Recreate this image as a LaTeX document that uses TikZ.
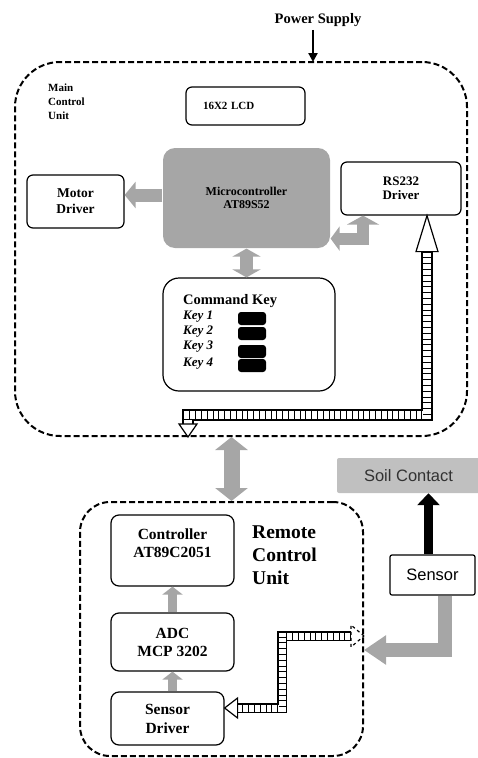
\documentclass[tikz,border=0pt]{standalone}
\usepackage{fontspec}
\setmainfont{Liberation Serif}
\newfontfamily\sansf{Liberation Sans}
\usetikzlibrary{arrows.meta}
\definecolor{garr}{RGB}{166,166,166}
\definecolor{gsoil}{RGB}{192,192,192}
\definecolor{soiltxt}{RGB}{50,50,50}
\newcommand\fPow{\fontsize{14.5}{16}\selectfont\bfseries}
\newcommand\fSm{\fontsize{11}{14}\selectfont\bfseries}
\newcommand\fLcd{\fontsize{11}{12}\selectfont\bfseries}
\newcommand\fMd{\fontsize{13.5}{16}\selectfont\bfseries}
\newcommand\fMc{\fontsize{12}{13}\selectfont\bfseries}
\newcommand\fRs{\fontsize{13}{14}\selectfont\bfseries}
\newcommand\fCmd{\fontsize{14.5}{15}\selectfont\bfseries}
\newcommand\fKey{\fontsize{13}{14}\selectfont\bfseries\itshape}
\newcommand\fRm{\fontsize{15.5}{18}\selectfont\bfseries}
\newcommand\fSd{\fontsize{15.5}{19}\selectfont\bfseries}
\newcommand\fBig{\fontsize{19.5}{23}\selectfont\bfseries}
\newcommand\fSoil{\sansf\fontsize{16.5}{18}\selectfont}
\begin{document}
\begin{tikzpicture}[x=1pt,y=-1pt,
  box/.style={draw, line width=1.2pt, rounded corners=6pt, align=center, inner sep=0pt},
  unit/.style={draw, line width=2pt, dash pattern=on 6pt off 3pt},
  keyblk/.style={fill=black, rounded corners=3pt, minimum width=28pt, minimum height=13pt, inner sep=0pt},
  txt/.style={inner sep=0pt, align=left},
  ladA/.style={draw=black, line width=12pt, line join=miter,
     postaction={draw=white, line width=8pt},
     postaction={draw=black, line width=8pt, dash pattern=on 0.8pt off 5pt}},
  ladB/.style={draw=black, line width=10pt, line join=miter,
     postaction={draw=white, line width=7pt},
     postaction={draw=black, line width=7pt, dash pattern=on 0.8pt off 5pt}},
  headst/.style={draw=black, fill=white, line width=1.2pt, line join=miter}
]
\useasboundingbox (0,0) rectangle (477,758);

% ---------- main control unit ----------
\node[unit, minimum width=452pt, minimum height=374pt, rounded corners=45pt] (main) at (241,249) {};
\node[font=\fPow, inner sep=0pt] (pwr) at (318,20) {Power Supply};
\coordinate (pin) at (313,62);
\draw[line width=2.2pt, -{Triangle[width=9pt,length=9pt]}, shorten <=3pt] (pwr.south -| pin) -- (pin);

\node[txt, anchor=north west, font=\fSm] (mcu) at (48,84) {Main\\Control\\Unit};
\node[box, minimum width=119pt, minimum height=38pt, text width=85pt, align=left, font=\fLcd] (lcd) at (245.5,106) {16X2 LCD};
\node[box, fill=garr, draw=none, minimum width=167pt, minimum height=100pt, rounded corners=12pt, font=\fMc] (micro) at (246.5,198) {Microcontroller\\AT89S52};
\node[box, minimum width=97pt, minimum height=53pt, font=\fMd] (motor) at (75.5,201.5) {Motor\\Driver};
\node[box, minimum width=120pt, minimum height=53pt, font=\fRs] (rs) at (401,188.5) {RS232\\Driver};

\node[box, minimum width=172pt, minimum height=113pt, rounded corners=16pt] (cmd) at (249,334.5) {};
\node[txt, anchor=west, font=\fCmd] (cmdt) at (183,301) {Command Key};
\node[txt, anchor=west, font=\fKey] (k1) at (183,317) {Key 1};
\node[txt, anchor=west, font=\fKey] (k2) at (183,332) {Key 2};
\node[txt, anchor=west, font=\fKey] (k3) at (183,347) {Key 3};
\node[txt, anchor=west, font=\fKey] (k4) at (183,364) {Key 4};
\node[keyblk] (b1) at (252,318.5) {};
\node[keyblk] (b2) at (252,333.5) {};
\node[keyblk] (b3) at (252,351.5) {};
\node[keyblk] (b4) at (252,365.5) {};

% grey arrows in main unit
\coordinate (m1) at ([yshift=3pt]micro.west);
\draw[draw=garr, line width=13pt, -{Triangle[width=26pt,length=11pt]}] (m1) -- (m1 -| motor.east);
\coordinate (m2) at ([yshift=10pt]micro.south east);
\coordinate (r2) at ([xshift=-38pt]rs.south);
\draw[draw=garr, line width=12pt, line join=miter, {Triangle[width=24pt,length=9pt]}-{Triangle[width=32pt,length=9pt]}] (m2) -| (r2);
\draw[draw=garr, line width=13pt, {Triangle[width=28pt,length=8pt]}-{Triangle[width=28pt,length=8pt]}] (micro.south) -- (micro.south |- cmd.north);

% striped bus in main unit
\coordinate (ba) at ([xshift=26pt]rs.south);
\coordinate (ba2) at ([yshift=-36pt]ba);
\coordinate (bh) at (0,415);
\coordinate (bx) at (188,0);
\coordinate (bz) at (main.south -| bx);
\coordinate (bz2) at ([yshift=13pt]bz);
\draw[ladA] (ba2) |- (bx |- bh) -- (bz2);
\draw[headst] (ba) -- ++(-11,36) -- ++(22,0) -- cycle;
\draw[headst] (bz) -- ++(-9,-13) -- ++(18,0) -- cycle;

% ---------- remote control unit ----------
\node[unit, minimum width=283pt, minimum height=254pt, rounded corners=30pt] (remote) at (221.5,629) {};
\coordinate (r4) at ([xshift=10pt]remote.north);
\draw[draw=garr, line width=16pt, {Triangle[width=32pt,length=13pt]}-{Triangle[width=32pt,length=13pt]}] (r4 |- main.south) -- (r4);

\node[box, minimum width=123pt, minimum height=71pt, rounded corners=8pt, font=\fRm, text depth=14pt] (ctrl) at (172.5,550.5) {Controller\\AT89C2051};
\node[txt, anchor=north west, font=\fBig] (rtxt) at (252,526) {Remote\\Control\\Unit};
\node[box, minimum width=123pt, minimum height=58pt, rounded corners=8pt, font=\fRm] (adc) at (172.5,642) {ADC\\MCP 3202};
\node[box, minimum width=113pt, minimum height=53pt, rounded corners=8pt, font=\fSd] (sdrv) at (167.5,718.5) {Sensor\\Driver};

\draw[draw=garr, line width=9pt, -{Triangle[width=20pt,length=8pt]}] (adc.north) -- (ctrl.south);
\draw[draw=garr, line width=9pt, -{Triangle[width=20pt,length=8pt]}] (adc.south |- sdrv.north) -- (adc.south);

% soil contact and sensor
\node[fill=gsoil, minimum width=143pt, minimum height=35pt, rounded corners=2pt, font=\fSoil, text=soiltxt, inner sep=0pt] (soil) at (408.5,475.5) {Soil Contact};
\node[box, rounded corners=2pt, minimum width=85pt, minimum height=40pt, font=\fSoil] (sensor) at (432.5,575) {Sensor};
\coordinate (s7) at ([xshift=-4pt]sensor.north);
\draw[black, line width=9pt, -{Triangle[width=22pt,length=12pt]}] (s7) -- (s7 |- soil.south);
\coordinate (s8) at ([xshift=12pt]sensor.south);
\coordinate (y8) at (0,650);
\draw[draw=garr, line width=14pt, line join=miter, -{Triangle[width=28pt,length=22pt]}] (s8) |- (y8 -| remote.east);

% striped bus in remote unit
\coordinate (cy) at (0,636);
\coordinate (ca) at (cy -| remote.east);
\coordinate (cx) at (282,0);
\coordinate (cy2) at (0,708);
\coordinate (cb) at (cy2 -| sdrv.east);
\draw[ladB] ([xshift=-13pt]ca) -| (cx |- cy2) -- ([xshift=13pt]cb);
\draw[headst, dashed] (ca) -- ++(-13,-11) -- ++(0,22) -- cycle;
\draw[headst] (cb) -- ++(13,-10) -- ++(0,20) -- cycle;
\end{tikzpicture}
\end{document}
